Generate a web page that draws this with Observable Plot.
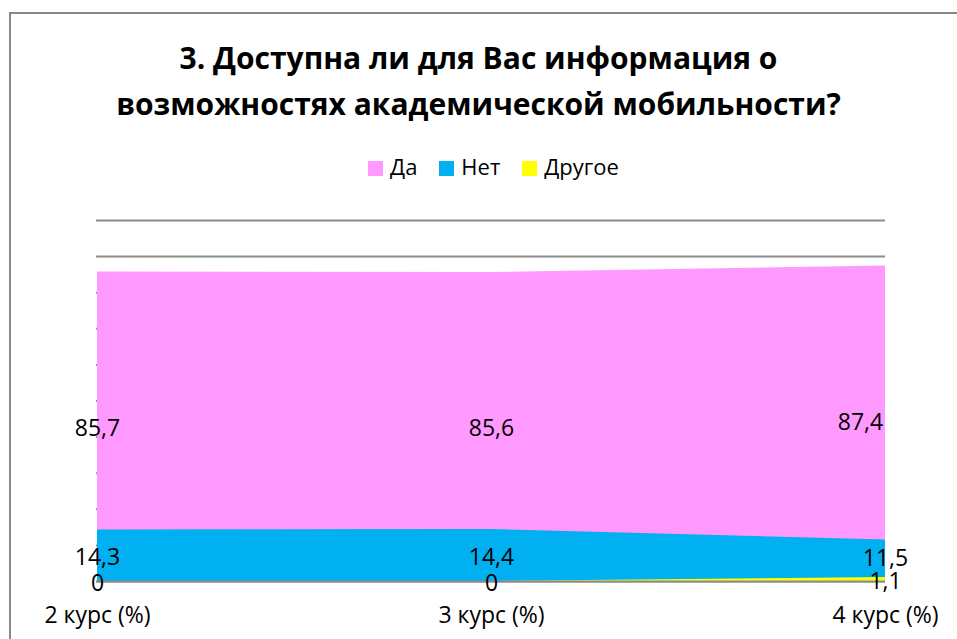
<!DOCTYPE html>
<html>
<head>
<meta charset="utf-8">
<script src="https://cdn.jsdelivr.net/npm/d3@7"></script>
<script src="https://cdn.jsdelivr.net/npm/@observablehq/plot@0.6"></script>
<style>
  html, body { margin: 0; padding: 0; background: #fff; }
  #wrap { position: relative; width: 957px; height: 639px; overflow: hidden; font-family: "Open Sans", sans-serif; }
  #frame { position: absolute; left: 9px; top: 12px; width: 980px; height: 700px; border: 2px solid #888; box-sizing: border-box; }
  #title { position: absolute; left: 0; width: 957px; top: 35px; text-align: center; font-weight: bold; font-size: 30px; line-height: 46px; color: #000; }
  #legend { position: absolute; left: 15px; width: 957px; top: 151px; text-align: center; font-size: 22px; line-height: 30px; color: #000; white-space: nowrap; }
  #legend span.item { display: inline-block; margin: 0 11px; }
  #legend span.sw { display: inline-block; width: 15px; height: 15px; margin-right: 7px; vertical-align: -1px; }
  #chart { position: absolute; left: 0; top: 200px; }
</style>
</head>
<body>
<div id="wrap">
  <div id="frame"></div>
  <div id="title">3. Доступна ли для Вас информация о<br>возможностях академической мобильности?</div>
  <div id="legend"></div>
  <div id="chart"></div>
</div>
<script>
const categories = ["2 курс (%)", "3 курс (%)", "4 курс (%)"];
const seriesNames = ["Да", "Нет", "Другое"];
const valuesDa = [85.7, 85.6, 87.4];
const valuesNet = [14.3, 14.4, 11.5];
const valuesOther = [0, 0, 1.1];
const seriesColors = ["#FF99FF", "#00B0F0", "#FFFF00"];
const yTicks = [0, 10, 20, 30, 40, 50, 60, 70, 80, 90, 100];

const seriesValues = [valuesDa, valuesNet, valuesOther];
const rows = [];
seriesNames.forEach((s, si) => {
  categories.forEach((c, ci) => rows.push({series: s, cat: c, value: seriesValues[si][ci], last: ci === categories.length - 1}));
});
const fmt = v => String(v).replace(".", ",");

// legend
const legend = document.getElementById("legend");
seriesNames.forEach((s, i) => {
  const it = document.createElement("span");
  it.className = "item";
  it.innerHTML = `<span class="sw" style="background:${seriesColors[i]}"></span>${s}`;
  legend.appendChild(it);
});

const isLastDa = d => d.series === "Да" && d.last;
const isLastNet = d => d.series === "Нет" && d.last;

const chart = Plot.plot({
  width: 957,
  height: 439,
  marginTop: 20,
  marginLeft: 96,
  marginRight: 72,
  marginBottom: 58,
  style: {fontFamily: "Open Sans, sans-serif", fontSize: "23px", color: "#000", background: "transparent", overflow: "visible"},
  x: {type: "point", domain: categories, padding: 0, label: null},
  y: {domain: [0, 100], axis: null},
  color: {domain: seriesNames, range: seriesColors},
  marks: [
    Plot.ruleY(yTicks, {stroke: "#8c8c8c", strokeWidth: 2, strokeOpacity: 1}),
    Plot.areaY(rows, {x: "cat", y1: 0, y2: "value", z: "series", fill: "series", fillOpacity: 1}),
    Plot.ruleY([0], {stroke: "#8c8c8c", strokeWidth: 2}),
    Plot.axisX({tickSize: 0, tickPadding: 25, fontSize: 23, fill: "#000"}),
    Plot.text(rows.filter(d => !isLastDa(d) && !isLastNet(d)), {x: "cat", y: d => d.value / 2, text: d => fmt(d.value), fill: "#000", fontSize: 23, dy: 2}),
    Plot.text(rows.filter(isLastNet), {x: "cat", y: d => d.value / 2, text: d => fmt(d.value), fill: "#000", fontSize: 23, dy: -2}),
    Plot.text(rows.filter(isLastDa), {x: "cat", y: d => d.value / 2, text: d => fmt(d.value), fill: "#000", fontSize: 23, dx: -25, dy: -1})
  ]
});
document.getElementById("chart").appendChild(chart);
</script>
</body>
</html>
